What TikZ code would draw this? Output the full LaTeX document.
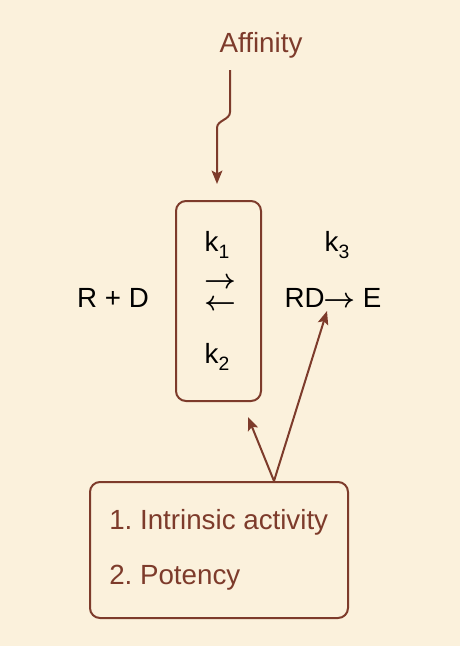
\documentclass[tikz,border=0pt]{standalone}
\usepackage{fontspec}
\setmainfont{Liberation Sans}
\usetikzlibrary{arrows.meta}
\definecolor{bgcream}{HTML}{FBF1DC}
\definecolor{brownc}{HTML}{7D3B2B}
\frenchspacing
\begin{document}
\begin{tikzpicture}[x=0.75pt,y=-0.75pt,
  txt/.style={inner sep=0pt,font=\fontsize{20.8}{25}\selectfont},
  btxt/.style={txt,text=brownc},
  arrtxt/.style={inner sep=0pt,font=\fontsize{21}{21}\selectfont\boldmath},
  boxstyle/.style={draw=brownc,line width=1.5pt,rounded corners=7.5pt,inner sep=0pt},
  conn/.style={draw=brownc,line width=1.5pt,-{Stealth[length=10pt,width=8pt,inset=2pt]}}]
\useasboundingbox[fill=bgcream] (0,0) rectangle (460,646);
\newcommand{\subs}[1]{\raisebox{-0.28em}{\fontsize{14.5}{15}\selectfont #1}}
% top label
\node[btxt] (aff) at (261,45) {Affinity};
% rate box
\node[boxstyle,minimum width=63.75pt,minimum height=150pt] (rate) at (218.5,301) {};
\node[txt] (k1) at (217,245) {k\subs{1}};
\node[arrtxt] (fw) at (220,283) {$\rightarrow$};
\node[arrtxt] (bw) at (220,305) {$\leftarrow$};
\node[txt] (k2) at (217,357) {k\subs{2}};
\node[txt] (rd) at (113,298) {R + D};
\node[txt] (k3) at (337,245) {k\subs{3}};
\node[txt] (rde) at (333,298) {RD\kern-1pt{\fontsize{21}{21}\selectfont\boldmath$\rightarrow$} E};
% effect box
\node[boxstyle,minimum width=193.5pt,minimum height=102pt] (eff) at (219,550) {};
\node[btxt,anchor=west] (l1) at (109,522) {1. Intrinsic activity};
\node[btxt,anchor=west] (l2) at (109,578) {2. Potency};
% connectors
\coordinate (a0) at (230,70);
\coordinate (a1) at (230,112);
\coordinate (a2) at (217,128);
\coordinate (a3) at (217,184);
\draw[conn] (a0) -- (a1) to[out=-90,in=90] (a2) -- (a3);
\coordinate (e0) at (274,481);
\coordinate (rdtip) at (327,311);
\coordinate (ratetip) at (248,417);
\draw[conn] (e0) -- (rdtip);
\draw[conn] (e0) -- (ratetip);
\end{tikzpicture}
\end{document}
